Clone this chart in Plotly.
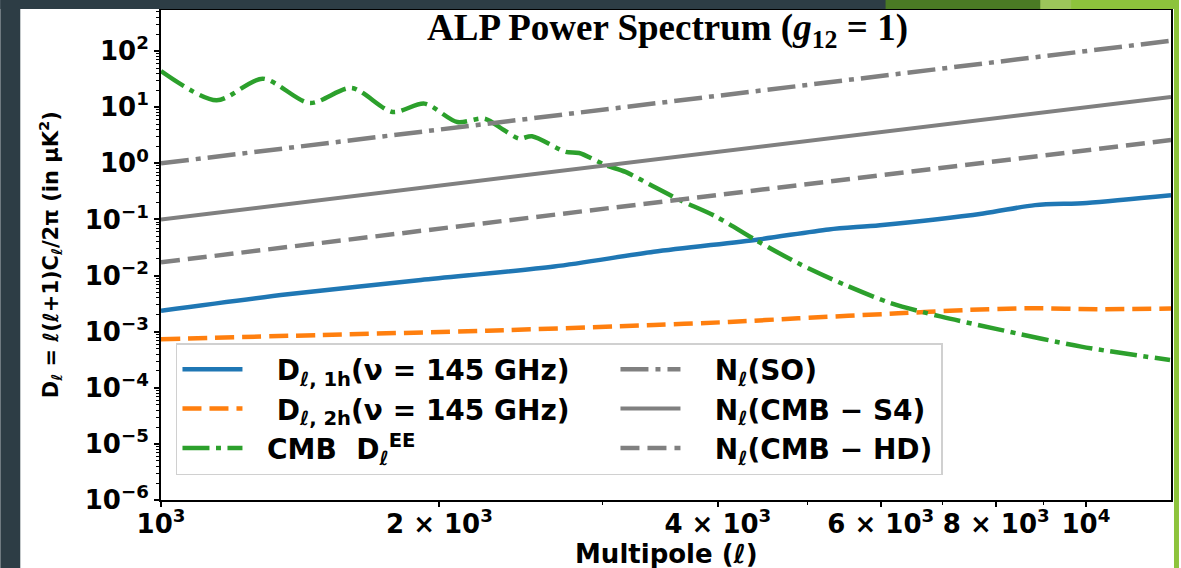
import plotly.graph_objects as go

# ---------------- data ----------------
ell_1h = [1000, 1371, 1910, 2661, 3410, 4426, 5272, 5988, 7745, 8811, 10020, 12360]
d_1h = [0.00237, 0.00465, 0.00832, 0.0145, 0.0265, 0.0441, 0.0664, 0.0792, 0.128, 0.180, 0.197, 0.270]

ell_2h = [1000, 1490, 2253, 3410, 4113, 4887, 6266, 7398, 8724, 10300, 12360]
d_2h = [0.000733, 0.000873, 0.00104, 0.001315, 0.00149, 0.00173, 0.00212, 0.00243, 0.00261, 0.00251, 0.00259]

ell_cmb = [1000, 1148, 1288, 1448, 1607, 1780, 1927, 2091, 2237, 2350, 2439, 2518,
           2739, 2832, 3027, 3179, 3425, 3641, 3974, 4396, 4887, 5494, 6163, 6979,
           8040, 9883, 12330]
d_cmb = [44.1, 13.3, 32.3, 11.9, 22.0, 8.22, 11.6, 5.45, 6.27, 3.88, 2.76, 3.04,
         1.60, 1.53, 0.925, 0.703, 0.371, 0.220, 0.1146, 0.0429, 0.0165, 0.00678, 0.00320, 0.00185,
         0.00110, 0.000541, 0.000313]

ell_noise = [1000, 2000, 4000, 8000, 12360]
n_so = [1.0, 4.0, 16.0, 64.0, 153.0]
n_s4 = [0.10, 0.40, 1.6, 6.4, 15.3]
n_hd = [0.0172, 0.0688, 0.275, 1.10, 2.60]

y_tick_vals = [1e-6, 1e-5, 1e-4, 1e-3, 1e-2, 1e-1, 1e0, 1e1, 1e2]
y_tick_text = ["10<sup>−6</sup>", "10<sup>−5</sup>", "10<sup>−4</sup>", "10<sup>−3</sup>",
               "10<sup>−2</sup>", "10<sup>−1</sup>", "10<sup>0</sup>", "10<sup>1</sup>", "10<sup>2</sup>"]
x_tick_vals = [1000, 2000, 4000, 6000, 8000, 10000]
x_tick_text = ["10<sup>3</sup>", "2 × 10<sup>3</sup>", "4 × 10<sup>3</sup>",
               "6 × 10<sup>3</sup>", "8 × 10<sup>3</sup>", "10<sup>4</sup>"]
x_minor_vals = [3000, 5000, 7000, 9000]
y_minor_vals = [k * 10.0 ** e for e in range(-6, 3) for k in range(2, 10)]

NB = "\u00a0"
labels = {
    "1h": NB * 3 + "D<sub>ℓ, 1h</sub>(ν = 145 GHz)",
    "2h": NB * 3 + "D<sub>ℓ, 2h</sub>(ν = 145 GHz)",
    "cmb": NB * 2 + "CMB  D<sub>ℓ</sub><sup>EE</sup>",
    "so": NB * 3 + "N<sub>ℓ</sub>(SO)",
    "s4": NB * 3 + "N<sub>ℓ</sub>(CMB − S4)",
    "hd": NB * 3 + "N<sub>ℓ</sub>(CMB − HD)",
}

# ---------------- layout geometry (pixels) ----------------
W, H = 1181, 568
L, R, T, B = 161, 1173, 10, 500


def px(x):
    return (x - L) / (R - L)


def py(y):
    return (B - y) / (B - T)


BLUE, ORANGE, GREEN, GRAY = "#1f77b4", "#ff7f0e", "#2ca02c", "#808080"
DASHDOT = "28px,7px,5px,7px"
DASH = "19px,8px"
COL1_W, COL2_W = 363, 251

fig = go.Figure()
fig.add_trace(go.Scatter(x=ell_1h, y=d_1h, mode="lines", name=labels["1h"],
                         line=dict(color=BLUE, width=4.5, shape="spline", smoothing=0.8),
                         legendrank=1, legendwidth=COL1_W))
fig.add_trace(go.Scatter(x=ell_2h, y=d_2h, mode="lines", name=labels["2h"],
                         line=dict(color=ORANGE, width=4.5, dash=DASH, shape="spline", smoothing=0.8),
                         legendrank=3, legendwidth=COL1_W))
fig.add_trace(go.Scatter(x=ell_cmb, y=d_cmb, mode="lines", name=labels["cmb"],
                         line=dict(color=GREEN, width=4.5, dash="27px,6.5px,5px,6.5px",
                                   shape="spline", smoothing=0.8),
                         legendrank=5, legendwidth=COL1_W))
fig.add_trace(go.Scatter(x=ell_noise, y=n_so, mode="lines", name=labels["so"],
                         line=dict(color=GRAY, width=4.5, dash=DASHDOT),
                         legendrank=2, legendwidth=COL2_W))
fig.add_trace(go.Scatter(x=ell_noise, y=n_s4, mode="lines", name=labels["s4"],
                         line=dict(color=GRAY, width=4),
                         legendrank=4, legendwidth=COL2_W))
fig.add_trace(go.Scatter(x=ell_noise, y=n_hd, mode="lines", name=labels["hd"],
                         line=dict(color=GRAY, width=4.5, dash=DASH),
                         legendrank=6, legendwidth=COL2_W))

BOLD = dict(family="DejaVu Sans", weight="bold", color="black")

fig.update_xaxes(type="log", range=[3, 4.092], showgrid=False, zeroline=False,
                 showline=True, linecolor="black", linewidth=2, mirror=True,
                 ticks="outside", ticklen=5, tickwidth=1.5, tickcolor="black",
                 tickvals=x_tick_vals, ticktext=x_tick_text, ticklabelstandoff=-5,
                 tickfont=dict(size=26, **BOLD),
                 minor=dict(tickvals=x_minor_vals, ticks="outside", ticklen=3,
                            tickwidth=1, tickcolor="black", showgrid=False))
fig.update_yaxes(type="log", range=[-6, 2.733], showgrid=False, zeroline=False,
                 showline=True, linecolor="black", linewidth=2, mirror=True,
                 ticks="outside", ticklen=5, tickwidth=1.5, tickcolor="black",
                 tickvals=y_tick_vals, ticktext=y_tick_text,
                 tickfont=dict(size=26, **BOLD),
                 minor=dict(tickvals=y_minor_vals, ticks="outside", ticklen=3,
                            tickwidth=1, tickcolor="black", showgrid=False))

DARK = "#2d3d45"
shapes = [
    dict(type="rect", xref="paper", yref="paper", x0=px(0), x1=px(20), y0=py(568), y1=py(0),
         fillcolor=DARK, line_width=0, layer="above"),
    dict(type="rect", xref="paper", yref="paper", x0=px(0), x1=px(890), y0=py(9), y1=py(0),
         fillcolor=DARK, line_width=0, layer="above"),
    dict(type="rect", xref="paper", yref="paper", x0=px(887), x1=px(1045), y0=py(9), y1=py(0),
         fillcolor="#4a7a24", line_width=0, layer="above"),
    dict(type="rect", xref="paper", yref="paper", x0=px(1042), x1=px(1075), y0=py(9), y1=py(0),
         fillcolor="#9cc55a", line_width=0, layer="above"),
    dict(type="rect", xref="paper", yref="paper", x0=px(1073), x1=px(1181), y0=py(9), y1=py(0),
         fillcolor="#8dc33c", line_width=0, layer="above"),
    dict(type="rect", xref="paper", yref="paper", x0=px(1176), x1=px(1181), y0=py(568), y1=py(0),
         fillcolor="#8dc33c", line_width=0, layer="above"),
]

annotations = [
    dict(text="<b>ALP Power Spectrum (<i>g</i><sub>12</sub> = 1)</b>", xref="paper", yref="paper",
         x=px(669), y=py(30), xanchor="center", yanchor="middle", showarrow=False,
         font=dict(family="Liberation Serif", size=37, color="black")),
    dict(text="Multipole (<i>ℓ</i>)", xref="paper", yref="paper",
         x=px(668), y=py(554), xanchor="center", yanchor="middle", showarrow=False,
         font=dict(size=26, **BOLD)),
    dict(text="D<sub>ℓ</sub> = ℓ(ℓ+1)C<sub>ℓ</sub>/2π (in μK<sup>2</sup>)", xref="paper", yref="paper",
         x=px(50), y=py(255), xanchor="center", yanchor="middle", showarrow=False,
         textangle=-90, font=dict(size=21, **BOLD)),
]

fig.update_layout(
    width=W, height=H, autosize=False,
    margin=dict(l=L, r=W - R, t=T, b=H - B, pad=0),
    paper_bgcolor="white", plot_bgcolor="white",
    showlegend=True,
    legend=dict(orientation="h", x=px(176), y=py(343), xanchor="left", yanchor="top",
                bgcolor="white", bordercolor="#d0d0d0", borderwidth=1.5,
                itemwidth=60, traceorder="normal",
                font=dict(size=28, **BOLD)),
    shapes=shapes, annotations=annotations,
)

fig.write_html("out.html")
